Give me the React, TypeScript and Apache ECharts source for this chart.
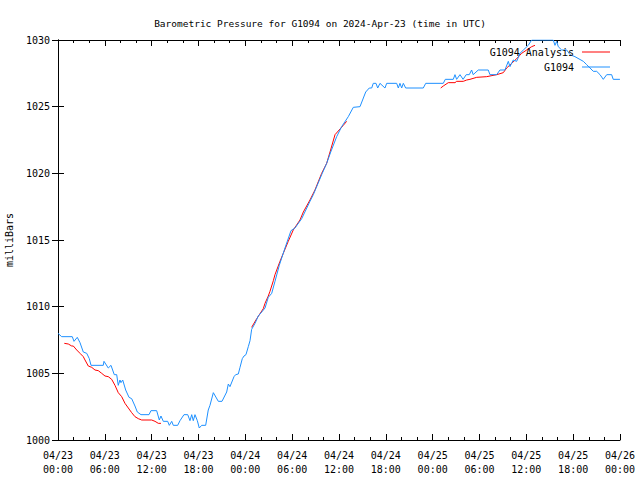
import React, { useEffect, useRef } from "react";
import * as echarts from "echarts";

const titleText = "Barometric Pressure for G1094 on 2024-Apr-23 (time in UTC)";
const yAxisName = "milliBars";
const seriesNames = ["G1094 Analysis", "G1094"];

// hours since 2024-04-23 00:00 UTC
const stationHours = [
  0.0, 0.47, 1.83, 2.05, 2.47, 2.82, 3.24, 3.68, 4.01, 4.23, 5.8, 5.89, 6.44, 6.79, 7.21, 7.52, 7.72, 7.94, 8.07, 8.29,
  8.67, 9.1, 9.44, 9.86, 10.16, 10.63, 11.66, 11.91, 12.64, 12.98, 13.19, 13.49, 14.05, 14.26, 14.57, 14.77, 15.33, 15.63,
  16.14, 16.62, 16.91, 17.13, 17.33, 17.55, 17.85, 18.1, 18.41, 18.92, 19.25, 19.47, 19.9, 20.54, 21.01, 21.61, 21.82,
  22.03, 22.55, 22.76, 23.1, 23.32, 23.61, 23.83, 24.08, 24.38, 24.6, 24.81, 25.24, 25.66, 26.1, 26.52, 26.94, 27.38,
  27.8, 28.35, 29.08, 29.85, 30.36, 31.22, 32.28, 32.71, 33.78, 34.42, 34.94, 35.7, 36.34, 37.19, 37.83, 38.69, 39.42,
  39.88, 40.19, 40.39, 40.74, 40.96, 41.25, 41.89, 42.11, 43.39, 43.6, 43.81, 44.03, 44.24, 44.54, 46.8, 47.11, 49.36,
  49.62, 50.64, 50.86, 51.07, 51.5, 51.9, 52.3, 52.69, 52.99, 53.19, 53.84, 55.12, 55.34, 56.2, 56.62, 57.26, 57.69,
  57.9, 58.33, 58.76, 59.19, 59.62, 60.25, 60.68, 63.45, 63.67, 63.89, 64.09, 64.53, 65.17, 65.6, 66.23, 67.3, 67.73,
  68.16, 68.58, 69.01, 69.44, 69.86, 70.3, 70.93, 71.13, 71.99,
];
const stationValues = [
  1008.0, 1007.75, 1007.75, 1007.4, 1007.7, 1007.3, 1006.6, 1006.5, 1006.1, 1005.6, 1005.6, 1005.9, 1005.4, 1005.6,
  1004.9, 1004.9, 1004.1, 1004.5, 1004.3, 1004.5, 1003.75, 1003.2, 1003.1, 1002.55, 1002.1, 1001.9, 1001.9, 1002.2,
  1002.2, 1001.5, 1001.8, 1001.4, 1001.4, 1001.1, 1001.4, 1001.1, 1001.1, 1001.45, 1001.9, 1001.9, 1001.45, 1001.9,
  1001.45, 1001.9, 1001.45, 1000.9, 1001.1, 1001.1, 1002.25, 1002.6, 1003.55, 1002.9, 1002.9, 1003.6, 1004.2, 1004.0,
  1004.75, 1004.9, 1004.95, 1005.45, 1006.1, 1006.3, 1006.4, 1007.0, 1007.45, 1008.3, 1008.75, 1009.3, 1009.6, 1009.9,
  1010.7, 1011.0, 1011.9, 1013.1, 1014.4, 1015.7, 1015.9, 1016.6, 1017.9, 1018.4, 1019.9, 1020.75, 1021.6, 1022.75,
  1023.5, 1024.25, 1024.95, 1025.0, 1026.1, 1026.4, 1026.4, 1026.75, 1026.75, 1026.4, 1026.75, 1026.4, 1026.75, 1026.75,
  1026.4, 1026.75, 1026.4, 1026.75, 1026.4, 1026.4, 1026.75, 1026.75, 1027.05, 1027.05, 1027.4, 1027.05, 1027.4,
  1027.05, 1027.4, 1027.4, 1027.75, 1027.4, 1027.75, 1027.75, 1027.4, 1027.4, 1027.75, 1027.75, 1028.4, 1028.0,
  1028.5, 1028.4, 1029.0, 1029.25, 1029.6, 1030.0, 1030.0, 1029.6, 1029.9, 1029.5, 1029.25, 1029.25, 1028.9, 1028.75,
  1028.4, 1028.15, 1027.9, 1027.65, 1027.65, 1027.4, 1027.05, 1027.4, 1027.4, 1027.05, 1027.05,
];

// analysis: three separate segments
const analysisHours1 = [
  0.81, 1.32, 1.76, 1.96, 2.4, 2.82, 3.24, 3.46, 3.88, 4.32, 4.74, 5.16, 5.6, 6.02, 6.44, 6.88, 7.3, 7.72, 8.16, 8.58,
  9.01, 9.44, 9.86, 10.29, 10.72, 12.0, 12.43, 12.85, 13.19,
];
const analysisValues1 = [
  1007.25, 1007.2, 1007.05, 1007.05, 1006.75, 1006.5, 1006.25, 1006.0, 1005.55, 1005.45, 1005.25, 1005.2, 1005.0,
  1004.8, 1004.75, 1004.55, 1004.1, 1003.55, 1003.25, 1002.75, 1002.4, 1002.05, 1001.75, 1001.6, 1001.5, 1001.5,
  1001.4, 1001.25, 1001.25,
];
const analysisHours2 = [
  24.81, 25.46, 26.3, 26.52, 26.94, 27.16, 27.59, 27.8, 28.44, 28.86, 29.5, 30.14, 31.0, 31.43, 32.28, 32.92, 33.78,
  34.42, 34.85, 35.49, 36.55, 36.98,
];
const analysisValues2 = [
  1008.45, 1009.1, 1009.85, 1010.25, 1010.8, 1011.15, 1011.95, 1012.4, 1013.4, 1014.0, 1014.9, 1015.75, 1016.5, 1017.1,
  1018.0, 1018.75, 1020.0, 1020.75, 1021.6, 1022.9, 1023.6, 1023.9,
];
const analysisHours3 = [
  49.03, 49.36, 50.0, 50.86, 51.07, 51.92, 52.36, 52.78, 53.64, 54.92, 56.2, 57.05, 57.48, 58.12, 58.76, 59.4, 60.04,
  60.68, 61.11,
];
const analysisValues3 = [
  1026.4, 1026.55, 1026.8, 1026.8, 1026.9, 1026.9, 1027.0, 1027.05, 1027.2, 1027.25, 1027.4, 1027.55, 1027.9, 1028.25,
  1028.6, 1029.0, 1029.25, 1029.5, 1029.6,
];

const startDay = 23;
const FONT = "DejaVu Sans Mono";

function pairs(xs: number[], ys: number[]) {
  return xs.map((x, i) => [x, ys[i]]);
}

export default function App() {
  const ref = useRef<HTMLDivElement>(null);
  useEffect(() => {
    if (!ref.current) return;
    const chart = echarts.init(ref.current, null, { renderer: "svg" });
    const analysisData: any[] = [
      ...pairs(analysisHours1, analysisValues1),
      [18, "-"],
      ...pairs(analysisHours2, analysisValues2),
      [43, "-"],
      ...pairs(analysisHours3, analysisValues3),
    ];
    const stationData = pairs(stationHours, stationValues);
    const labelFmt = (v: number) => {
      const d = startDay + Math.floor(v / 24);
      const h = v % 24;
      return "04/" + String(d).padStart(2, "0") + "\n" + String(h).padStart(2, "0") + ":00";
    };
    const textBase = { fontFamily: FONT, fontSize: 10, color: "#000" };
    const axisLine = { show: true, lineStyle: { color: "#000", width: 1 } };
    chart.setOption({
      animation: false,
      backgroundColor: "#fff",
      title: {
        text: titleText,
        left: "center",
        top: 13,
        textStyle: { ...textBase, fontSize: 9.5, fontWeight: "normal" },
      },
      legend: [
        {
          data: [seriesNames[0]],
          right: 25,
          top: 42,
          orient: "vertical",
          align: "right",
          icon: "rect",
          itemWidth: 28,
          itemHeight: 1,
          textStyle: { ...textBase, padding: [0, 3, 0, 0] },
        },
        {
          data: [seriesNames[1]],
          right: 25,
          top: 57,
          orient: "vertical",
          align: "right",
          icon: "rect",
          itemWidth: 28,
          itemHeight: 1,
          textStyle: { ...textBase, padding: [0, 3, 0, 0] },
        },
      ],
      grid: { left: 58, right: 20, top: 40, bottom: 40, containLabel: false, outerBoundsMode: "none" },
      xAxis: [
        {
          type: "value",
          min: 0,
          max: 72,
          interval: 6,
          axisLine,
          axisTick: { show: true, inside: true, length: 6, lineStyle: { color: "#000" } },
          minorTick: { show: true, splitNumber: 3, length: 3, lineStyle: { color: "#000" } },
          splitLine: { show: false },
          axisLabel: { ...textBase, margin: 8, lineHeight: 14, formatter: labelFmt },
        },
        {
          type: "value",
          position: "top",
          min: 0,
          max: 72,
          interval: 6,
          axisLine,
          axisTick: { show: true, inside: true, length: 6, lineStyle: { color: "#000" } },
          minorTick: { show: true, splitNumber: 3, length: 3, lineStyle: { color: "#000" } },
          splitLine: { show: false },
          axisLabel: { show: false },
        },
      ],
      yAxis: [
        {
          type: "value",
          min: 1000,
          max: 1030,
          interval: 5,
          name: yAxisName,
          nameLocation: "middle",
          nameGap: 44,
          nameRotate: 90,
          nameTextStyle: { ...textBase },
          axisLine,
          axisTick: { show: true, inside: true, length: 6, lineStyle: { color: "#000" } },
          splitLine: { show: false },
          axisLabel: { ...textBase, margin: 8, formatter: (v: number) => String(v) },
        },
        {
          type: "value",
          position: "right",
          min: 1000,
          max: 1030,
          interval: 5,
          axisLine,
          axisTick: { show: true, inside: true, length: 6, lineStyle: { color: "#000" } },
          splitLine: { show: false },
          axisLabel: { show: false },
        },
      ],
      series: [
        {
          name: seriesNames[0],
          type: "line",
          data: analysisData,
          showSymbol: false,
          symbol: "none",
          connectNulls: false,
          lineStyle: { color: "#ff0000", width: 1 },
          itemStyle: { color: "#ff0000" },
        },
        {
          name: seriesNames[1],
          type: "line",
          data: stationData,
          showSymbol: false,
          symbol: "none",
          lineStyle: { color: "#1e90ff", width: 1 },
          itemStyle: { color: "#1e90ff" },
        },
      ],
    });
    return () => chart.dispose();
  }, []);
  return (
    <div
      ref={ref}
      style={{ position: "fixed", left: 0, top: 0, width: 640, height: 480, background: "#fff" }}
    />
  );
}
